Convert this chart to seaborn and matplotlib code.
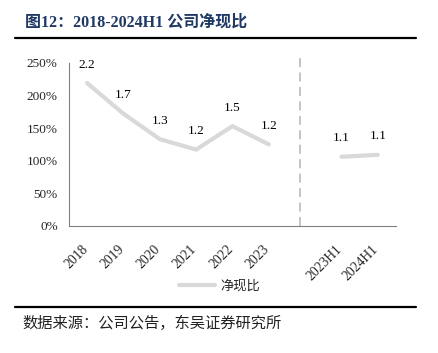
import seaborn as sns
import matplotlib.pyplot as plt
import matplotlib.transforms as mtransforms
import pandas as pd
from matplotlib.lines import Line2D

sns.set_theme(style = "white")
plt.rcParams['font.family'] = ['Liberation Serif', 'Noto Sans CJK SC']

# Data
categories = ["2018", "2019", "2020", "2021", "2022", "2023", "", "2023H1", "2024H1"]
annual_years = ["2018", "2019", "2020", "2021", "2022", "2023"]
annual_values = [2.19, 1.72, 1.33, 1.17, 1.53, 1.25]
half_years = ["2023H1", "2024H1"]
half_values = [1.06, 1.09]
yticks = [0, 0.5, 1.0, 1.5, 2.0, 2.5]

line_color = "#d9d9d9"
title_color = "#1f3864"

df_a = pd.DataFrame({"x": [categories.index(c) for c in annual_years], "v": annual_values})
df_h = pd.DataFrame({"x": [categories.index(c) for c in half_years], "v": half_values})

fig = plt.figure(figsize = (4.39, 3.53), dpi = 100)
ax = fig.add_axes([0.157, 0.360, 0.745, 0.462])

sns.lineplot(data = df_a, x = "x", y = "v", ax = ax, color = line_color, lw = 3)
sns.lineplot(data = df_h, x = "x", y = "v", ax = ax, color = line_color, lw = 3)

# Value labels above points
for d in (df_a, df_h):
    for x, v in zip(d["x"], d["v"]):
        ax.annotate(f"{v:.1f}", (x, v), xytext = (0, 9), textcoords = "offset points",
                    ha = "center", va = "bottom", fontsize = 9.5, color = "black")

ax.set_xlim(-0.5, len(categories) - 0.5)
ax.set_ylim(0, 2.5)
ax.set_yticks(yticks)
ax.set_yticklabels([f"{int(round(t * 100))}%" for t in yticks], fontsize = 9.5)
ax.set_xticks(range(len(categories)))
ax.set_xticklabels(categories, rotation = 45, ha = "right", rotation_mode = "anchor", fontsize = 9.8)
ax.set_xticks([i - 0.5 for i in range(len(categories) + 1)], minor = True)
ax.tick_params(axis = "x", which = "major", length = 0, pad = 12)
ax.tick_params(axis = "x", which = "minor", direction = "in", length = 3, color = "#808080")
ax.tick_params(axis = "y", length = 0, pad = 8)
shift = mtransforms.ScaledTranslation(-0.06, 0, fig.dpi_scale_trans)
for lab in ax.get_xticklabels():
    lab.set_transform(lab.get_transform() + shift)
ax.set_xlabel("")
ax.set_ylabel("")
for s in ("top", "right"):
    ax.spines[s].set_visible(False)
for s in ("left", "bottom"):
    ax.spines[s].set_color("#808080")
    ax.spines[s].set_linewidth(0.8)

# Dashed separator between annual and half-year data
ax.axvline(5.85, ymin = 0, ymax = 1.045, color = "#bfbfbf", lw = 1.3,
           ls = (0, (5, 3)), clip_on = False)

# Legend
handle = Line2D([0], [0], color = line_color, lw = 3)
fig.legend([handle], ["净现比"], loc = "center", bbox_to_anchor = (0.5, 0.19),
           frameon = False, prop = {"family": "Noto Sans CJK SC", "size": 9.5},
           handlelength = 2.8, handletextpad = 0.4)

# Title and source with rules
fig.text(0.057, 0.935, "图12：2018-2024H1 公司净现比", fontsize = 11.5, fontweight = "bold",
         color = title_color, va = "center", ha = "left")
fig.add_artist(Line2D([0.034, 0.948], [0.892, 0.892], color = "black", lw = 1.6))
fig.add_artist(Line2D([0.034, 0.948], [0.130, 0.130], color = "black", lw = 1.6))
fig.text(0.052, 0.085, "数据来源：公司公告，东吴证券研究所", fontsize = 11,
         family = "Noto Sans CJK SC", va = "center", ha = "left", color = "#222222")

fig.savefig("out.png", dpi = 100)
